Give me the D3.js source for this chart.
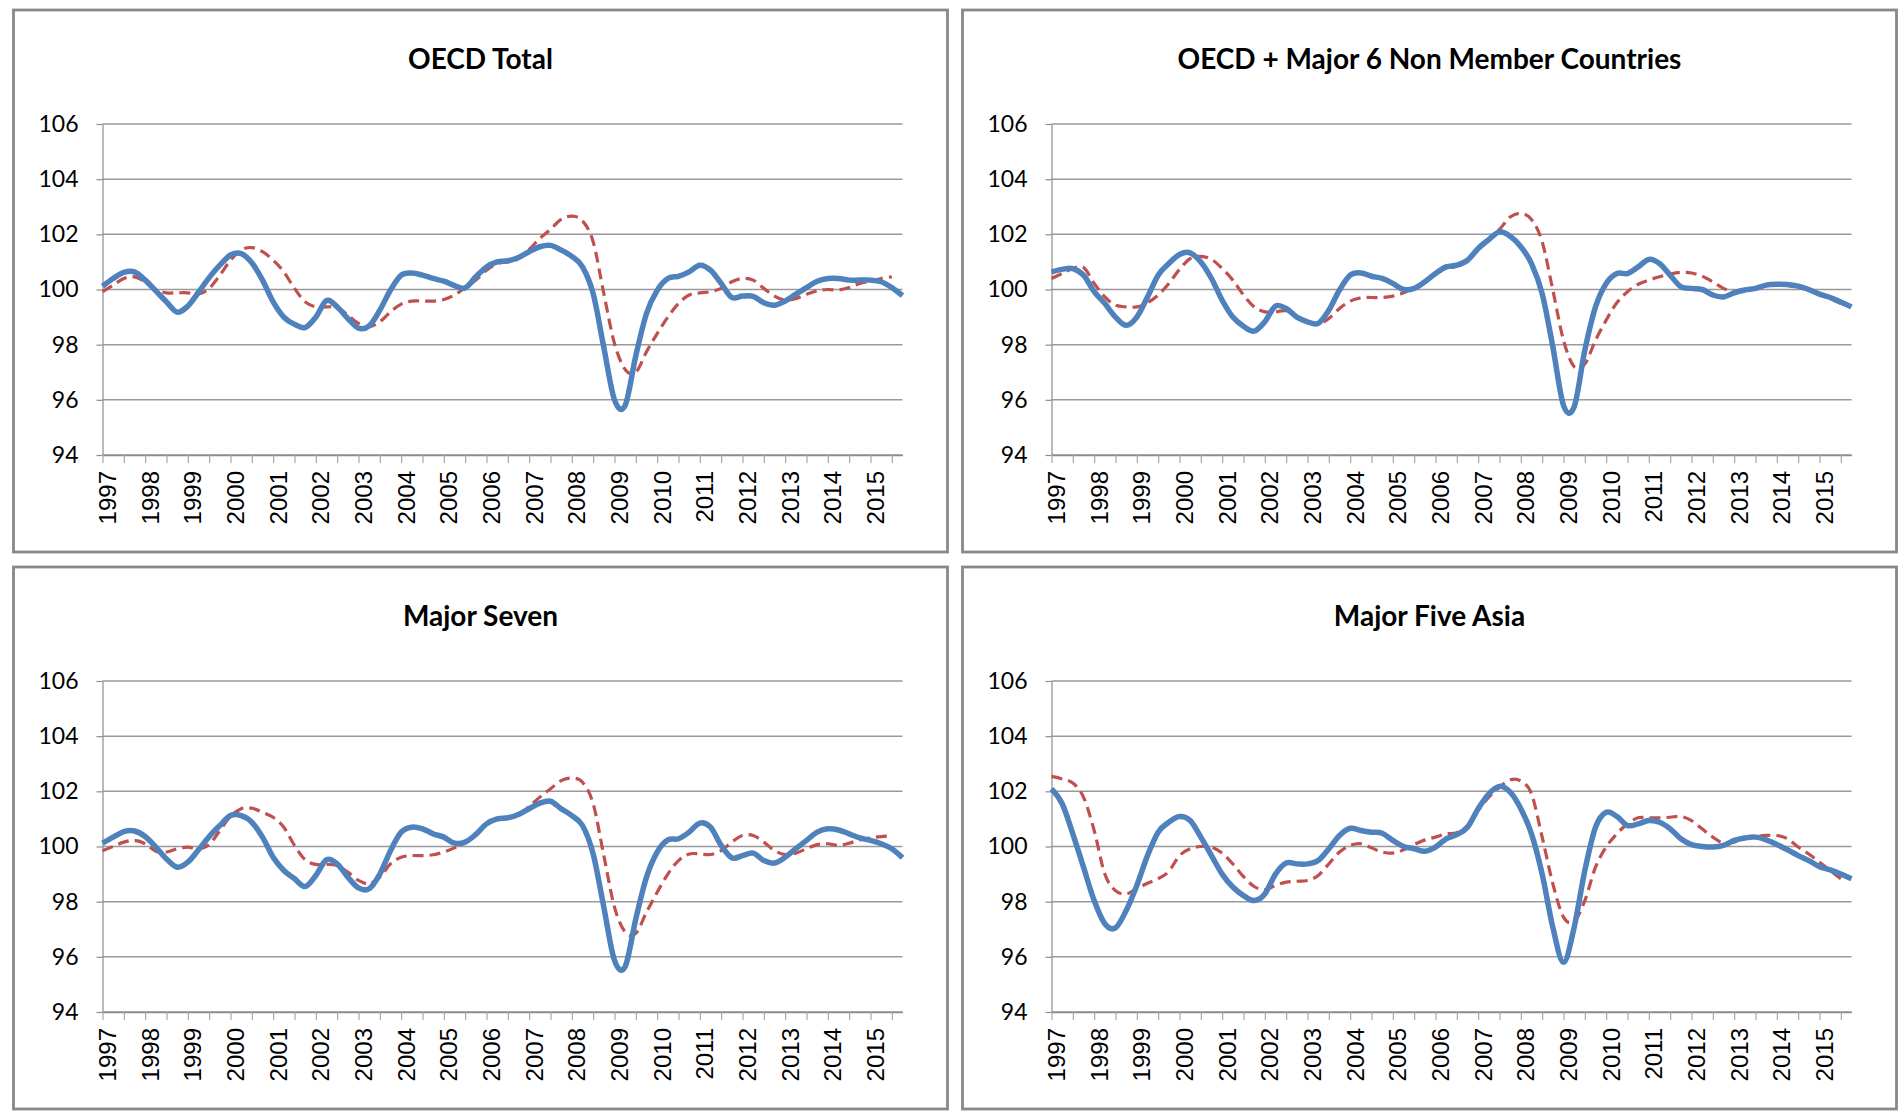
<!DOCTYPE html>
<html>
<head>
<meta charset="utf-8">
<title>Composite leading indicators</title>
<script src="https://cdn.jsdelivr.net/npm/d3@7"></script>
<style>
  body { margin: 0; background: #fff; }
  .title { font-family: Lato, sans-serif; font-weight: bold; font-size: 28px; fill: #000; }
  .ylab text { font-family: Lato, sans-serif; font-size: 23px; fill: #000; }
  .xlab text { font-family: 'Liberation Sans', Arial, sans-serif; font-size: 24px; fill: #000; }
</style>
</head>
<body>
<div id="chart"></div>
<script>
  // ---- data (quarterly readings, 1997 Q1 onwards) ----
  const years = ["1997","1998","1999","2000","2001","2002","2003","2004","2005","2006",
                 "2007","2008","2009","2010","2011","2012","2013","2014","2015"];
  const yTicks = [94, 96, 98, 100, 102, 104, 106];
  const quarters = d3.range(76).map(i => 1997 + i / 4);

  const oecdTotalBlue = [
    100.12,100.4,100.62,100.64, 100.34,99.95,99.55,99.18, 99.4,99.9,100.43,100.88,
    101.25,101.3,100.97,100.34, 99.55,99.0,98.74,98.62, 99.0,99.6,99.37,98.95,
    98.6,98.68,99.25,99.98, 100.52,100.6,100.52,100.4, 100.3,100.14,100.06,100.46,
    100.82,101.0,101.04,101.16, 101.37,101.55,101.6,101.43, 101.2,100.82,99.85,97.9,
    96.0,95.8,97.6,99.13, 99.97,100.4,100.48,100.64, 100.88,100.7,100.22,99.71,
    99.76,99.75,99.52,99.43, 99.58,99.83,100.07,100.3, 100.4,100.4,100.34,100.34,
    100.34,100.28,100.07,99.78];
  const oecdTotalRed = [
    99.92,100.16,100.4,100.46, 100.28,100.0,99.88,99.88, 99.88,99.83,100.04,100.52,
    101.06,101.43,101.52,101.37, 101.06,100.64,100.04,99.55, 99.37,99.37,99.35,99.07,
    98.77,98.65,98.83,99.19, 99.47,99.58,99.58,99.58, 99.64,99.8,100.07,100.34,
    100.7,100.94,101.0,101.12, 101.45,101.85,102.18,102.54, 102.66,102.49,101.73,99.85,
    98.04,97.1,97.0,97.74, 98.4,99.0,99.49,99.8, 99.88,99.92,100.04,100.28,
    100.4,100.34,100.04,99.76, 99.61,99.67,99.83,99.95, 100.0,99.98,100.07,100.22,
    100.31,100.4,100.46];

  const oecdMajor6Blue = [
    100.64,100.73,100.76,100.52, 99.92,99.49,99.0,98.7, 99.0,99.73,100.52,100.94,
    101.27,101.33,101.0,100.4, 99.61,99.0,98.67,98.49, 98.83,99.4,99.31,99.0,
    98.83,98.77,99.25,99.98, 100.52,100.6,100.48,100.4, 100.22,100.0,100.04,100.28,
    100.58,100.82,100.88,101.06, 101.49,101.81,102.09,101.93, 101.55,100.94,99.85,97.92,
    95.8,95.75,97.8,99.37, 100.22,100.58,100.58,100.82, 101.09,100.94,100.52,100.1,
    100.04,100.0,99.8,99.73, 99.88,99.98,100.04,100.16, 100.19,100.18,100.12,100.0,
    99.83,99.71,99.55,99.37];
  const oecdMajor6Red = [
    100.4,100.58,100.76,100.8, 100.22,99.73,99.43,99.37, 99.37,99.52,99.8,100.22,
    100.73,101.12,101.2,101.09, 100.76,100.34,99.8,99.37, 99.19,99.19,99.23,99.0,
    98.83,98.74,98.95,99.31, 99.58,99.7,99.71,99.71, 99.76,99.88,100.07,100.28,
    100.58,100.8,100.82,101.09, 101.52,101.85,102.18,102.63, 102.76,102.54,101.73,99.98,
    98.16,97.2,97.3,98.16, 98.89,99.52,99.92,100.19, 100.34,100.46,100.56,100.62,
    100.6,100.48,100.28,100.04, 99.92,99.98,100.07,100.18, 100.19,100.15,100.07,99.98,
    99.83,99.67,99.49];

  const majorSevenBlue = [
    100.12,100.34,100.54,100.56, 100.36,99.98,99.55,99.25, 99.43,99.88,100.36,100.76,
    101.12,101.12,100.88,100.34, 99.61,99.13,98.83,98.55, 98.95,99.52,99.37,98.89,
    98.5,98.47,99.0,99.85, 100.52,100.7,100.64,100.46, 100.34,100.12,100.16,100.44,
    100.82,101.0,101.04,101.16, 101.37,101.57,101.64,101.37, 101.12,100.76,99.73,97.8,
    95.87,95.65,97.38,98.89, 99.8,100.24,100.28,100.52, 100.85,100.7,100.04,99.59,
    99.67,99.76,99.49,99.4, 99.61,99.92,100.22,100.52, 100.64,100.6,100.46,100.31,
    100.22,100.1,99.92,99.59];
  const majorSevenRed = [
    99.85,100.0,100.16,100.22, 100.1,99.83,99.8,99.92, 99.98,99.92,100.07,100.58,
    101.09,101.37,101.39,101.24, 101.06,100.7,100.04,99.52, 99.35,99.35,99.31,99.07,
    98.77,98.65,98.89,99.37, 99.61,99.67,99.67,99.7, 99.8,99.95,100.16,100.46,
    100.82,101.0,101.03,101.12, 101.45,101.79,102.09,102.39, 102.48,102.33,101.55,99.67,
    97.8,96.9,96.85,97.62, 98.34,99.0,99.49,99.73, 99.73,99.71,99.85,100.16,
    100.4,100.4,100.16,99.85, 99.71,99.76,99.92,100.07, 100.1,100.04,100.12,100.24,
    100.31,100.36,100.39];

  const majorFiveAsiaBlue = [
    102.09,101.55,100.46,99.25, 98.04,97.2,97.05,97.68, 98.59,99.67,100.52,100.88,
    101.09,100.94,100.34,99.67, 99.0,98.53,98.22,98.04, 98.28,99.0,99.4,99.37,
    99.37,99.49,99.92,100.4, 100.66,100.58,100.52,100.48, 100.22,100.0,99.92,99.83,
    99.98,100.28,100.43,100.7, 101.37,101.91,102.18,101.97, 101.37,100.46,99.0,97.07,
    95.8,97.07,99.13,100.7, 101.24,101.09,100.76,100.82, 100.94,100.88,100.64,100.28,
    100.07,100.0,99.98,100.04, 100.22,100.31,100.34,100.24, 100.07,99.88,99.67,99.49,
    99.27,99.15,99.0,98.83];
  const majorFiveAsiaRed = [
    102.54,102.45,102.3,101.79, 100.58,99.0,98.4,98.28, 98.47,98.67,98.83,99.1,
    99.67,99.92,100.0,99.98, 99.76,99.37,98.91,98.55, 98.43,98.59,98.71,98.74,
    98.77,98.95,99.37,99.8, 100.04,100.1,99.95,99.8, 99.76,99.88,100.07,100.24,
    100.34,100.46,100.5,100.76, 101.31,101.79,102.15,102.42, 102.37,101.91,100.34,98.65,
    97.44,97.29,98.04,99.25, 99.98,100.46,100.82,101.04, 101.04,101.04,101.06,101.09,
    100.94,100.64,100.34,100.12, 100.16,100.28,100.36,100.4, 100.4,100.28,99.98,99.73,
    99.43,99.13,98.83];

  const panels = [
    { title: "OECD Total", blue: oecdTotalBlue, red: oecdTotalRed, col: 0, row: 0 },
    { title: "OECD + Major 6 Non Member Countries", blue: oecdMajor6Blue, red: oecdMajor6Red, col: 1, row: 0 },
    { title: "Major Seven", blue: majorSevenBlue, red: majorSevenRed, col: 0, row: 1 },
    { title: "Major Five Asia", blue: majorFiveAsiaBlue, red: majorFiveAsiaRed, col: 1, row: 1 }
  ];

  // ---- layout ----
  const W = 1904, H = 1116;
  const panelW = 934, panelH = 542;
  const panelX = [13.5, 962.5], panelY = [10, 567];
  const plot = { left: 89, top: 114, width: 800, height: 331 };

  const svg = d3.select("#chart").append("svg")
      .attr("width", W)
      .attr("height", H)
      .style("display", "block");

  const x = d3.scaleLinear()
      .domain([1997, 2015.75])
      .range([0, plot.width]);
  const y = d3.scaleLinear()
      .domain([94, 106])
      .range([plot.height, 0]);

  const line = d3.line()
      .x((d, i) => x(quarters[i]))
      .y(d => y(d))
      .curve(d3.curveCatmullRom.alpha(0));

  panels.forEach(p => {
    const g = svg.append("g")
        .attr("transform", `translate(${panelX[p.col]}, ${panelY[p.row]})`);

    // panel frame
    g.append("rect")
        .attr("width", panelW)
        .attr("height", panelH)
        .attr("fill", "#fff")
        .attr("stroke", "#888")
        .attr("stroke-width", 2.8);

    g.append("text")
        .attr("class", "title")
        .attr("x", panelW / 2)
        .attr("y", 59)
        .attr("text-anchor", "middle")
        .text(p.title);

    const pg = g.append("g")
        .attr("transform", `translate(${plot.left}, ${plot.top})`);

    // gridlines
    pg.selectAll(".grid")
        .data(yTicks)
        .enter().append("line")
        .attr("class", "grid")
        .attr("x1", 0)
        .attr("x2", plot.width)
        .attr("y1", d => y(d))
        .attr("y2", d => y(d))
        .attr("stroke", "#999")
        .attr("stroke-width", 1.5);

    // y axis
    const ya = pg.append("g")
        .attr("class", "ylab")
        .call(d3.axisLeft(y).tickValues(yTicks).tickSize(6).tickSizeOuter(0).tickPadding(18));
    ya.select(".domain").attr("stroke", "#8c8c8c").attr("stroke-width", 1.2);
    ya.selectAll(".tick line").attr("stroke", "#8c8c8c").attr("stroke-width", 1.2);

    // x axis: half-year tick marks
    const halfYears = d3.range(38).map(i => 1997 + i / 2);
    const xa = pg.append("g")
        .attr("transform", `translate(0, ${plot.height})`)
        .call(d3.axisBottom(x).tickValues(halfYears).tickSize(8).tickSizeOuter(0).tickFormat(""));
    xa.select(".domain").attr("stroke", "#8c8c8c").attr("stroke-width", 1.5);
    xa.selectAll(".tick line").attr("stroke", "#a6a6a6").attr("stroke-width", 1.2);

    // x axis: rotated year labels
    const xl = pg.append("g")
        .attr("class", "xlab")
        .attr("transform", `translate(0, ${plot.height})`)
        .call(d3.axisBottom(x).tickValues(years.map(Number)).tickSize(0).tickFormat(d3.format("d")));
    xl.select(".domain").remove();
    xl.selectAll("text")
        .attr("transform", "rotate(-90)")
        .attr("x", -16)
        .attr("y", 13)
        .attr("dy", 0)
        .style("text-anchor", "end");

    // series
    pg.append("path")
        .datum(p.red)
        .attr("fill", "none")
        .attr("stroke", "#C0504D")
        .attr("stroke-width", 3.2)
        .attr("stroke-dasharray", "11,6")
        .attr("d", line);
    pg.append("path")
        .datum(p.blue)
        .attr("fill", "none")
        .attr("stroke", "#4F81BD")
        .attr("stroke-width", 5.5)
        .attr("stroke-linejoin", "round")
        .attr("d", line);
  });
</script>
</body>
</html>
